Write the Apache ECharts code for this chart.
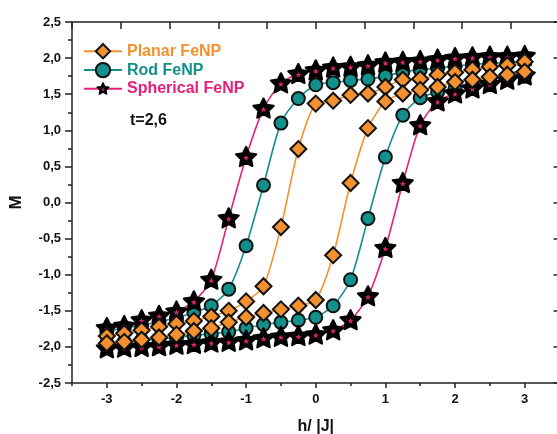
<!DOCTYPE html>
<html>
<head>
<meta charset="utf-8">
<script src="https://cdn.jsdelivr.net/npm/echarts@6/dist/echarts.min.js"></script>
<style>
html,body{margin:0;padding:0;background:#fff;}
#chart{width:557px;height:434px;}
</style>
</head>
<body>
<div id="chart"></div>
<script>
// field values h/|J|
const hValues = [-3,-2.75,-2.5,-2.25,-2,-1.75,-1.5,-1.25,-1,-0.75,-0.5,-0.25,0,0.25,0.5,0.75,1,1.25,1.5,1.75,2,2.25,2.5,2.75,3];

// Planar FeNP (orange diamonds)
const planarUpper = [-1.85,-1.81,-1.77,-1.72,-1.68,-1.64,-1.58,-1.50,-1.37,-1.16,-0.34,0.74,1.37,1.41,1.49,1.51,1.60,1.70,1.71,1.77,1.80,1.84,1.88,1.90,1.95];
const planarLower = [-1.95,-1.93,-1.90,-1.87,-1.83,-1.78,-1.74,-1.66,-1.59,-1.53,-1.48,-1.43,-1.35,-0.73,0.27,1.03,1.40,1.51,1.56,1.60,1.67,1.70,1.74,1.77,1.81];

// Rod FeNP (teal circles)
const rodUpper = [-1.78,-1.74,-1.70,-1.65,-1.60,-1.52,-1.43,-1.20,-0.60,0.24,1.10,1.44,1.63,1.66,1.69,1.71,1.75,1.81,1.84,1.86,1.89,1.91,1.93,1.94,1.95];
const rodLower = [-1.95,-1.93,-1.91,-1.89,-1.87,-1.84,-1.82,-1.79,-1.74,-1.69,-1.66,-1.63,-1.59,-1.43,-1.07,-0.22,0.63,1.21,1.45,1.53,1.58,1.63,1.67,1.71,1.75];

// Spherical FeNP (stars)
const spherUpper = [-1.74,-1.71,-1.63,-1.57,-1.51,-1.37,-1.07,-0.22,0.63,1.30,1.65,1.78,1.83,1.87,1.88,1.90,1.94,1.95,1.96,1.98,2.00,2.01,2.02,2.02,2.03];
const spherLower = [-2.02,-2.01,-2.00,-1.99,-1.97,-1.96,-1.94,-1.93,-1.91,-1.88,-1.86,-1.85,-1.83,-1.77,-1.63,-1.30,-0.63,0.27,1.07,1.40,1.51,1.58,1.64,1.70,1.76];

const seriesNames = ['Planar FeNP','Rod FeNP','Spherical FeNP'];
const xTickLabels = [-3,-2,-1,0,1,2,3];
const yTicks = [-2.5,-2,-1.5,-1,-0.5,0,0.5,1,1.5,2,2.5];

const ORANGE = '#F39130', TEAL = '#12908C', PINK = '#E5207A';

const starSvg = "<svg xmlns='http://www.w3.org/2000/svg' width='80' height='80' viewBox='0 0 100 100'>" +
  "<path d='M50,8 L62.9,34.2 L91.9,38.4 L70.9,58.8 L75.9,87.6 L50,74 L24.1,87.6 L29.1,58.8 L8.1,38.4 L37.1,34.2 Z' fill='#000' stroke='#000' stroke-width='9' stroke-linejoin='round'/>" +
  "<path d='M50,41 L53.2,49.6 L62.4,50 L55.2,55.7 L57.6,64.5 L50,59.5 L42.4,64.5 L44.8,55.7 L37.6,50 L46.8,49.6 Z' fill='" + PINK + "'/></svg>";
const starSymbol = 'image://data:image/svg+xml;charset=utf-8,' + encodeURIComponent(starSvg);

function pairs(arr){ return hValues.map((h,i)=>[h, arr[i]]); }

function mk(name, arr, color, symbol, size, z, extra){
  return Object.assign({
    name: name, type: 'line', data: pairs(arr), z: z,
    smooth: 0.25,
    symbol: symbol, symbolSize: size,
    lineStyle: {color: color, width: 1.6},
    itemStyle: {color: color, borderColor: '#111', borderWidth: 2},
    emphasis: {disabled: true},
    animation: false
  }, extra || {});
}

const chart = echarts.init(document.getElementById('chart'), null, {renderer: 'canvas'});
const fmt = v => (Math.abs(v) < 1e-9 ? 0 : v).toFixed(1).replace('.', ',');
const axisCol = '#222';

chart.setOption({
  backgroundColor: '#fff',
  animation: false,
  textStyle: {fontFamily: 'Liberation Sans, Arial, sans-serif'},
  grid: {left: 72, top: 22, width: 487.5, height: 361, containLabel: false, outerBoundsMode: 'none'},
  legend: {
    left: 78, top: 38, orient: 'vertical', itemWidth: 38, itemHeight: 18, itemGap: 2.5,
    data: [
      {name: seriesNames[0], textStyle: {color: ORANGE}},
      {name: seriesNames[1], textStyle: {color: TEAL}},
      {name: seriesNames[2], textStyle: {color: PINK}}
    ],
    textStyle: {fontSize: 16, fontWeight: 'bold', fontFamily: 'Liberation Sans, Arial, sans-serif'}
  },
  graphic: [{
    type: 'text', left: 130, top: 113,
    style: {text: 't=2,6', font: 'bold 16px "Liberation Sans", Arial, sans-serif', fill: '#111'}
  }],
  xAxis: [{
    type: 'value', position: 'bottom', min: -3.5, max: 3.5, interval: 0.5,
    name: 'h/ |J|', nameLocation: 'middle', nameGap: 36,
    nameTextStyle: {fontSize: 16, fontWeight: 'bold', color: '#111'},
    axisLine: {onZero: false, lineStyle: {color: axisCol, width: 1.5}},
    axisTick: {show: true, length: 5, inside: false, customValues: xTickLabels, lineStyle: {color: axisCol, width: 1.5}},
    axisLabel: {fontSize: 13, fontWeight: 'bold', color: '#111', margin: 10, customValues: xTickLabels,
      formatter: v => String(Math.round(v))},
    splitLine: {show: false}
  }, {
    type: 'value', position: 'top', min: -5, max: 5, interval: 1,
    axisLine: {onZero: false, lineStyle: {color: axisCol, width: 1.5}},
    axisTick: {show: true, inside: true, length: 7, lineStyle: {color: axisCol, width: 1.5}},
    axisLabel: {show: false}, splitLine: {show: false}
  }, {
    type: 'value', position: 'bottom', min: -3.5, max: 3.5, interval: 0.5,
    axisLine: {show: false, onZero: false},
    axisTick: {show: true, length: 3, inside: false, lineStyle: {color: axisCol, width: 1.5}},
    axisLabel: {show: false}, splitLine: {show: false}
  }],
  yAxis: [{
    type: 'value', position: 'left', min: -2.5, max: 2.5, interval: 0.5,
    name: 'M', nameLocation: 'middle', nameGap: 47, nameRotate: 90,
    nameTextStyle: {fontSize: 17, fontWeight: 'bold', color: '#111'},
    axisLine: {onZero: false, lineStyle: {color: axisCol, width: 1.5}},
    axisTick: {show: true, length: 7, lineStyle: {color: axisCol, width: 1.5}},
    minorTick: {show: true, splitNumber: 2, length: 4, lineStyle: {color: axisCol, width: 1.5}},
    axisLabel: {fontSize: 13, fontWeight: 'bold', color: '#111', margin: 11, formatter: fmt,
      customValues: yTicks},
    splitLine: {show: false}
  }, {
    type: 'value', position: 'right', min: -2.5, max: 2.5, interval: 0.5,
    axisLine: {onZero: false, lineStyle: {color: axisCol, width: 1.5}},
    axisTick: {show: true, inside: true, length: 6, lineStyle: {color: axisCol, width: 1.5}},
    axisLabel: {show: false}, splitLine: {show: false}
  }],
  series: [
    mk(seriesNames[1], rodUpper, TEAL, 'circle', 13, 2),
    mk(seriesNames[1], rodLower, TEAL, 'circle', 13, 2),
    mk(seriesNames[2], spherUpper, PINK, starSymbol, 24, 3, {symbolKeepAspect: true}),
    mk(seriesNames[2], spherLower, PINK, starSymbol, 24, 3, {symbolKeepAspect: true}),
    mk(seriesNames[0], planarUpper, ORANGE, 'diamond', 16, 4),
    mk(seriesNames[0], planarLower, ORANGE, 'diamond', 16, 4)
  ]
});
</script>
</body>
</html>
